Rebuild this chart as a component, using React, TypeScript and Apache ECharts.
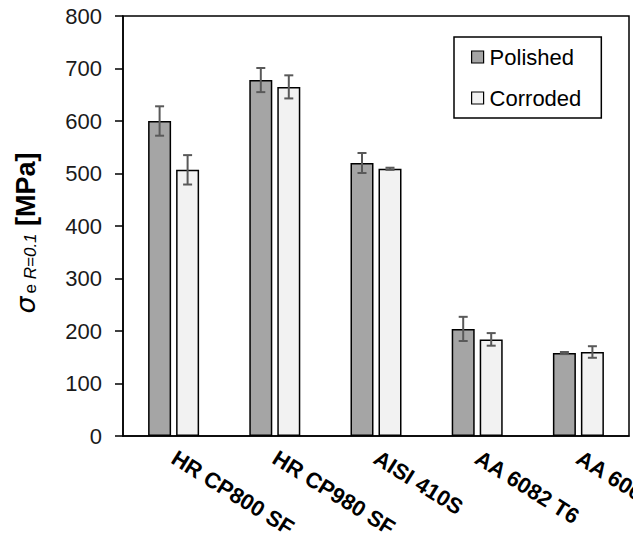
import React, { useEffect, useRef } from "react";
import * as echarts from "echarts";

const categories = ["HR CP800 SF", "HR CP980 SF", "AISI 410S", "AA 6082 T6", "AA 6061 T6"];
const polished = [600, 678, 520, 204, 158];
const polishedErr = [28, 23, 19, 23, 2];
const corroded = [507, 665, 509, 184, 160];
const corrodedErr = [28, 22, 2, 12, 11];
const yTicks = { min: 0, max: 800, interval: 100 };

const BAR_W = 23;
const GAP = 5;

function errSeries(name: string, vals: number[], errs: number[], offset: number) {
  return {
    type: "custom",
    name: name + " err",
    z: 10,
    silent: true,
    data: vals.map((v, i) => [i, v, errs[i]]),
    encode: { x: 0, y: 1 },
    renderItem: (params: any, api: any) => {
      const i = api.value(0);
      const v = api.value(1);
      const e = api.value(2);
      const hi = api.coord([i, v + e]);
      const lo = api.coord([i, v - e]);
      const cx = hi[0] + offset;
      const cap = 4.5;
      const style = { stroke: "#595959", lineWidth: 2 };
      return {
        type: "group",
        children: [
          { type: "line", shape: { x1: cx, y1: hi[1], x2: cx, y2: lo[1] }, style },
          { type: "line", shape: { x1: cx - cap, y1: hi[1], x2: cx + cap, y2: hi[1] }, style },
          { type: "line", shape: { x1: cx - cap, y1: lo[1], x2: cx + cap, y2: lo[1] }, style },
        ],
      };
    },
  };
}

export default function App() {
  const ref = useRef<HTMLDivElement>(null);
  useEffect(() => {
    if (!ref.current) return;
    const chart = echarts.init(ref.current, null, { renderer: "svg" });
    const off = (BAR_W + GAP) / 2;
    chart.setOption({
      animation: false,
      backgroundColor: "#ffffff",
      textStyle: { fontFamily: "Liberation Sans, Arial, sans-serif" },
      grid: {
        left: 123,
        right: 4,
        top: 16,
        bottom: 108,
        show: true,
        borderColor: "#000",
        borderWidth: 1.5,
        containLabel: false,
        outerBoundsMode: "none",
      },
      legend: {
        left: 454,
        top: 37,
        orient: "vertical",
        itemWidth: 12,
        itemHeight: 12,
        itemGap: 19,
        padding: [9, 20, 9, 17],
        borderColor: "#000",
        borderWidth: 1.5,
        backgroundColor: "#fff",
        icon: "rect",
        textStyle: { fontSize: 22, color: "#000", padding: [0, 0, 0, 1] },
        data: [
          { name: "Polished", itemStyle: { color: "#a5a5a5", borderColor: "#000", borderWidth: 1.2 } },
          { name: "Corroded", itemStyle: { color: "#f2f2f2", borderColor: "#000", borderWidth: 1.2 } },
        ],
      },
      xAxis: {
        type: "category",
        data: categories,
        boundaryGap: true,
        axisLine: { show: true, lineStyle: { color: "#000", width: 1.5 } },
        axisTick: { show: false },
        axisLabel: {
          rotate: -32,
          interval: 0,
          margin: 20,
          fontSize: 22,
          fontWeight: "bold",
          color: "#000",
        },
      },
      yAxis: {
        type: "value",
        min: yTicks.min,
        max: yTicks.max,
        interval: yTicks.interval,
        splitLine: { show: false },
        axisLine: { show: true, lineStyle: { color: "#000", width: 1.5 } },
        axisTick: { show: true, inside: false, length: 8, lineStyle: { color: "#000", width: 1.5 } },
        axisLabel: { fontSize: 22, color: "#1a1a1a", margin: 21 },
        name: "{s|σ}{e|e}{sub| R=0.1}{b| [MPa]}",
        nameLocation: "middle",
        nameGap: 84,
        nameTextStyle: {
          padding: [0, 14, 0, 0],
          rich: {
            s: { fontSize: 27, fontStyle: "italic", color: "#000", fontFamily: "DejaVu Sans" },
            e: { fontSize: 17, color: "#000", padding: [10, 0, 0, 3] },
            sub: { fontSize: 17, fontStyle: "italic", color: "#000", padding: [10, 0, 0, 0] },
            b: { fontSize: 27, fontWeight: "bold", color: "#000" },
          },
        },
      },
      series: [
        {
          type: "bar",
          name: "Polished",
          data: polished,
          barWidth: BAR_W,
          barGap: (GAP / BAR_W) * 100 + "%",
          itemStyle: { color: "#a5a5a5", borderColor: "#000", borderWidth: 1.5 },
        },
        {
          type: "bar",
          name: "Corroded",
          data: corroded,
          barWidth: BAR_W,
          barGap: (GAP / BAR_W) * 100 + "%",
          itemStyle: { color: "#f2f2f2", borderColor: "#000", borderWidth: 1.5 },
        },
        errSeries("Polished", polished, polishedErr, -off),
        errSeries("Corroded", corroded, corrodedErr, off),
      ],
    });
    return () => chart.dispose();
  }, []);
  return (
    <div
      ref={ref}
      style={{ position: "fixed", left: 0, top: 0, width: 633, height: 544 }}
    />
  );
}
